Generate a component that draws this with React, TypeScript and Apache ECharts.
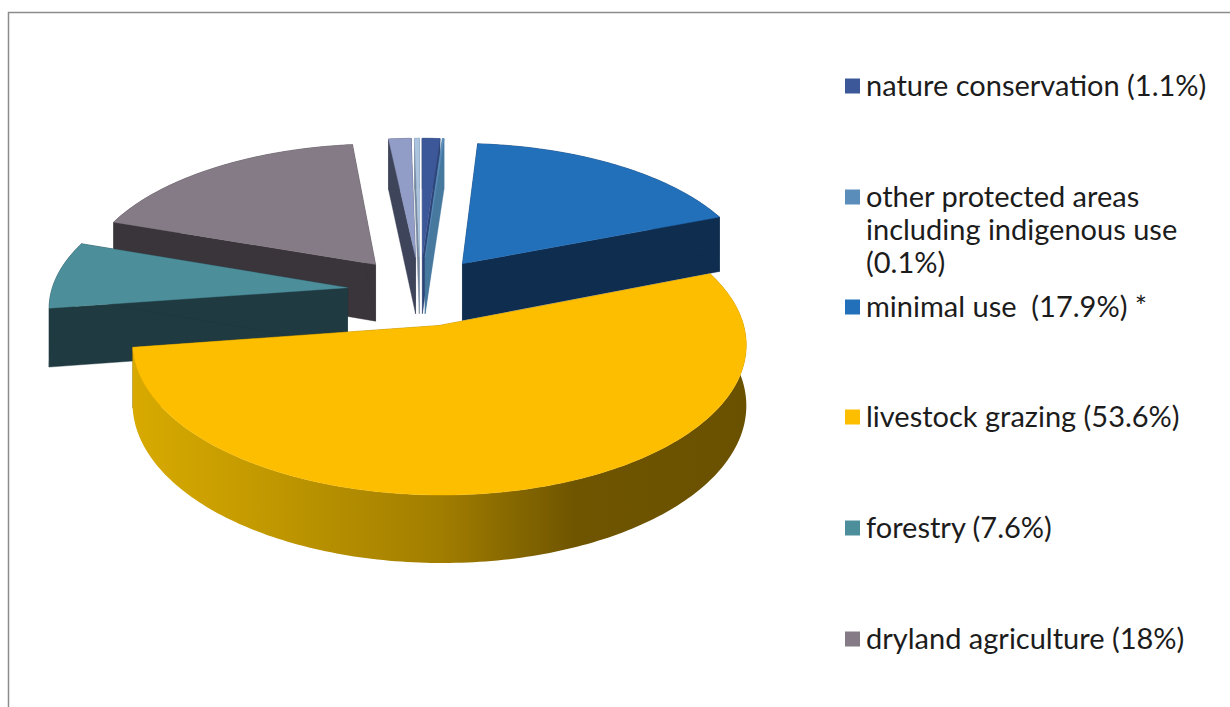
import React, { useEffect, useRef } from "react";
import * as echarts from "echarts";

// Land use shares, clockwise from twelve o'clock. The last two slices carry no legend entry.
const sliceNames = [
  "nature conservation",
  "other protected areas",
  "minimal use",
  "livestock grazing",
  "forestry",
  "dryland agriculture",
  "unassigned a",
  "unassigned b",
];
const shareValues = [1.1, 0.1, 17.9, 53.6, 7.6, 18, 1.4, 0.3];
const topColors = ["#3c5899", "#5b8dbb", "#2370ba", "#fdbe00", "#4c8e9a", "#857b87", "#919dc6", "#aac3df"];
const wallColors = ["#2f4476", "#47799f", "#0f2d4f", "#8a6a00", "#1f3a40", "#3a343b", "#3e4459", "#76899e"];
const paintOrder = [6, 7, 0, 1, 5, 4, 2, 3];

const legendLines = [
  ["nature conservation (1.1%)"],
  ["other protected areas", "including indigenous use", "(0.1%)"],
  ["minimal use  (17.9%) *"],
  ["livestock grazing (53.6%)"],
  ["forestry (7.6%)"],
  ["dryland agriculture (18%)"],
];
const legendSwatches = ["#3c5899", "#5b8dbb", "#2370ba", "#fdbe00", "#4c8e9a", "#857b87"];
const legendRows = [86, 197, 307, 417, 528, 639];

// Tilted-disc projection: ground plane to screen, with a little perspective.
const CX = 420;
const CY = 291;
const TILT = 0.475;
const PERSPECTIVE = 0.0004;
const RADIUS = 296;
const EXPLODE = 73;
const DEPTH = 58;
const LEGEND_FONT = "Lato";
const FONT_SIZE = 29;
const LINE_STEP = 33;
const TEXT_LIFT = 2;

const rad = (deg: number) => (deg * Math.PI) / 180;

function project(x: number, y: number, h: number) {
  const k = 1 / (1 - PERSPECTIVE * y);
  return [CX + x * k, CY + TILT * y * k + h * k];
}

function sliceShapes(startDeg: number, endDeg: number, top: string, wall: any, edge: string) {
  const mid = rad((startDeg + endDeg) / 2);
  const ox = EXPLODE * Math.sin(mid);
  const oy = -EXPLODE * Math.cos(mid);
  const steps = Math.max(2, Math.ceil(endDeg - startDeg));
  const arc: number[][] = [];
  for (let i = 0; i <= steps; i++) {
    const a = rad(startDeg + ((endDeg - startDeg) * i) / steps);
    arc.push([ox + RADIUS * Math.sin(a), oy - RADIUS * Math.cos(a)]);
  }
  const topOf = (p: number[]) => project(p[0], p[1], 0);
  const baseOf = (p: number[]) => project(p[0], p[1], DEPTH);
  const apex = [ox, oy];
  const poly = (points: number[][], fill: any) => ({
    type: "polygon",
    shape: { points },
    style: { fill, stroke: typeof fill === "string" ? fill : "none", lineWidth: 0.4 },
    silent: true,
  });
  const first = arc[0];
  const last = arc[arc.length - 1];
  return [
    // Cut faces sit behind the rim, and the top face covers everything below it.
    poly([topOf(apex), topOf(first), baseOf(first), baseOf(apex)], edge),
    poly([topOf(apex), topOf(last), baseOf(last), baseOf(apex)], edge),
    poly([...arc.map(topOf), ...arc.slice().reverse().map(baseOf)], wall),
    poly([topOf(apex), ...arc.map(topOf)], top),
  ];
}

function buildOption() {
  const total = shareValues.reduce((s, v) => s + v, 0);
  const starts: number[] = [];
  let running = 0;
  shareValues.forEach((v) => {
    starts.push(running);
    running += v;
  });
  const grazingWall = new echarts.graphic.LinearGradient(0, 0, 1, 0, [
    { offset: 0, color: "#d8aa00" },
    { offset: 0.2, color: "#c39a00" },
    { offset: 0.5, color: "#a27e00" },
    { offset: 0.72, color: "#6f5500" },
    { offset: 1, color: "#6a5100" },
  ]);

  const series = paintOrder.map((idx) => ({
    type: "custom",
    name: sliceNames[idx],
    coordinateSystem: "none",
    silent: true,
    itemStyle: { color: topColors[idx] },
    data: [[shareValues[idx]]],
    renderItem: () => ({
      type: "group",
      children: sliceShapes(
        (starts[idx] / total) * 360,
        ((starts[idx] + shareValues[idx]) / total) * 360,
        topColors[idx],
        idx === 3 ? grazingWall : wallColors[idx],
        wallColors[idx],
      ),
    }),
  }));

  const legendGraphics: any[] = [];
  legendLines.forEach((lines, i) => {
    const rowY = legendRows[i];
    legendGraphics.push({
      type: "rect",
      shape: { x: 845, y: rowY - 7.5, width: 15, height: 15 },
      style: { fill: legendSwatches[i] },
      silent: true,
    });
    lines.forEach((line, j) => {
      legendGraphics.push({
        type: "text",
        x: 866,
        y: rowY - TEXT_LIFT + j * LINE_STEP,
        silent: true,
        style: {
          text: line,
          fill: "#1c1c1c",
          font: `${FONT_SIZE}px ${LEGEND_FONT}`,
          verticalAlign: "middle",
          align: "left",
        },
      });
    });
  });

  return {
    animation: false,
    backgroundColor: "#ffffff",
    graphic: [
      {
        type: "polyline",
        shape: { points: [[8.5, 707], [8.5, 12.5], [1230, 12.5]] },
        style: { stroke: "#8c8c8c", lineWidth: 1.5, fill: "none" },
        silent: true,
      },
      ...legendGraphics,
    ],
    series,
  };
}

export default function App() {
  const ref = useRef<HTMLDivElement>(null);
  useEffect(() => {
    const chart = echarts.init(ref.current!, undefined, { renderer: "svg" });
    chart.setOption(buildOption() as any);
    return () => chart.dispose();
  }, []);
  return <div ref={ref} style={{ position: "fixed", left: 0, top: 0, width: 1230, height: 707 }} />;
}
